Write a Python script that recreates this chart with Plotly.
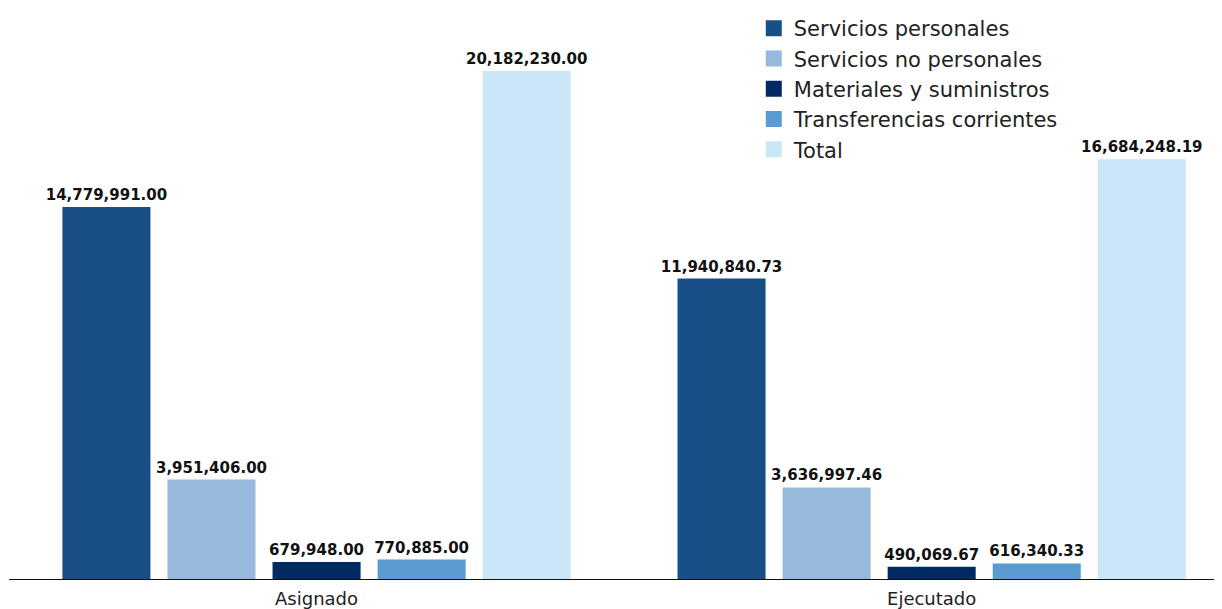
import plotly.graph_objects as go

categories = ["Asignado", "Ejecutado"]
series_names = ["Servicios personales", "Servicios no personales", "Materiales y suministros",
                "Transferencias corrientes", "Total"]
servicios_personales = [14779991.00, 11940840.73]
servicios_no_personales = [3951406.00, 3636997.46]
materiales_suministros = [679948.00, 490069.67]
transferencias_corrientes = [770885.00, 616340.33]
total = [20182230.00, 16684248.19]
colors = ["#174f86", "#97b9db", "#022a62", "#5b9bd1", "#cbe6f7"]

series_values = [servicios_personales, servicios_no_personales, materiales_suministros,
                 transferencias_corrientes, total]

label_font = dict(family="DejaVu Sans", size=15, color="#111111", weight="bold")

x_pos = list(range(len(categories)))
fig = go.Figure()
for name, vals, col in zip(series_names, series_values, colors):
    fig.add_trace(go.Bar(
        x=x_pos, y=vals, name=name, marker=dict(color=col, line=dict(width=0)),
        texttemplate="%{y:,.2f}", textposition="outside", cliponaxis=False,
        constraintext="none",
        textfont=label_font, outsidetextfont=label_font,
        showlegend=False, hoverinfo="skip"))
for name, col in zip(series_names, colors):
    fig.add_trace(go.Scatter(
        x=[None], y=[None], mode="markers", name=name,
        marker=dict(symbol="square", size=20, color=col), showlegend=True))

fig.update_layout(
    width=1214, height=601,
    margin=dict(l=1, r=0, t=0, b=30),
    paper_bgcolor="white", plot_bgcolor="white",
    barmode="group", bargap=0.146, bargroupgap=0.162,
    font=dict(family="DejaVu Sans", color="#222222"),
    legend=dict(x=0.614, y=1.0, xanchor="left", yanchor="top",
                font=dict(size=21, color="#222222", family="DejaVu Sans"),
                tracegroupgap=0, bgcolor="rgba(0,0,0,0)"),
    xaxis=dict(range=[-0.5, 1.472], tickvals=x_pos, ticktext=categories,
               showline=True, linecolor="#111111", linewidth=1, ticks="",
               showgrid=False, zeroline=False, ticklabelstandoff=3,
               tickfont=dict(size=18, color="#222222", family="DejaVu Sans")),
    yaxis=dict(range=[0, 22.69e6], visible=False, showgrid=False, zeroline=False),
)
fig.write_html("out.html")
